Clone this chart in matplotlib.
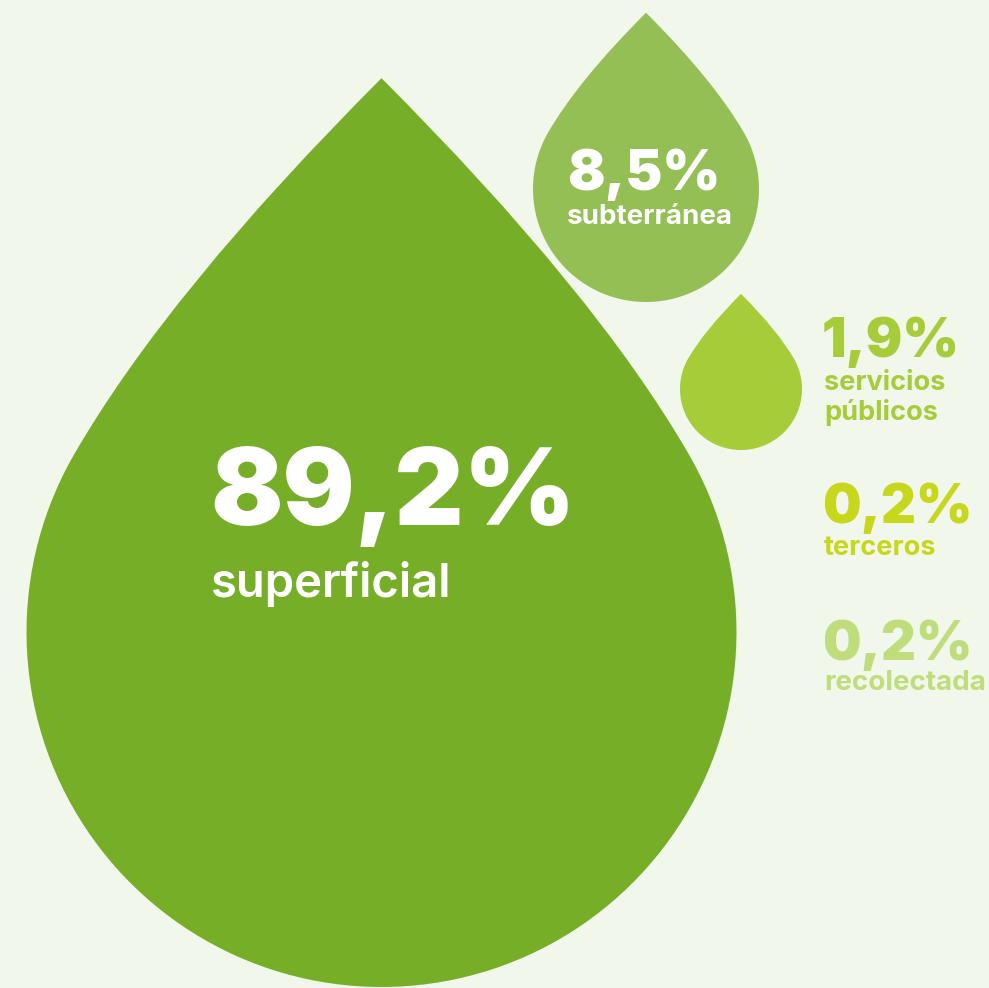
import numpy as np
import matplotlib.pyplot as plt
from matplotlib.path import Path
from matplotlib.patches import PathPatch

# water sources, share of total withdrawal
shares = [89.2, 8.5, 1.9, 0.2, 0.2]
share_labels = ['89,2%', '8,5%', '1,9%', '0,2%', '0,2%']
sources = ['superficial', 'subterránea', 'servicios\npúblicos', 'terceros', 'recolectada']

BG = '#f1f7ea'
colors = ['#77ae28', '#93bf55', '#a6cc3a', '#c6d71c', '#bfdd7b']

plt.rcParams['font.family'] = ['Inter', 'DejaVu Sans']


def drop_path(cx, cy, r, tip=1.56):
    # round bottom of radius r centred at (cx, cy), pointed tip above it
    a = np.radians(150)
    p3 = np.array([np.cos(a), np.sin(a)])
    # control point: where the 45 deg tip line meets the circle tangent at p3
    A = np.array([[1.0, np.sin(a)], [1.0, -np.cos(a)]])
    b = np.array([-np.cos(a), tip - np.sin(a)])
    s, u = np.linalg.solve(A, b)
    q = np.array([-s, tip - s])
    th = np.linspace(a, 2 * np.pi + np.pi - a, 120)
    arc = np.column_stack([np.cos(th), np.sin(th)])
    verts = [(0, tip), q, p3] + list(arc[1:]) + [(-q[0], q[1]), (0, tip), (0, tip)]
    codes = ([Path.MOVETO, Path.CURVE3, Path.CURVE3] + [Path.LINETO] * (len(arc) - 1)
             + [Path.CURVE3, Path.CURVE3, Path.CLOSEPOLY])
    verts = np.array(verts, dtype=float)
    verts[:, 0] = cx + r * verts[:, 0]
    verts[:, 1] = cy - r * verts[:, 1]
    return Path(verts, codes)


fig = plt.figure(figsize=(9.89, 9.88), dpi=100)
fig.patch.set_facecolor(BG)
ax = fig.add_axes([0, 0, 1, 1])
ax.set_xlim(0, 989)
ax.set_ylim(988, 0)
ax.axis('off')

# drops: big, medium, small
for (cx, cy, r), c in zip([(381.5, 632, 355), (646, 189, 113), (741, 389, 61)], colors[:3]):
    ax.add_patch(PathPatch(drop_path(cx, cy, r), facecolor=c, edgecolor='none'))

# labels inside drops
ax.text(210, 525, share_labels[0], color='white', fontsize=77, fontweight='black', va='baseline')
ax.text(211, 597, sources[0], color='white', fontsize=34, fontweight='semibold', va='baseline')
ax.text(567, 190, share_labels[1], color='white', fontsize=40, fontweight='black', va='baseline')
ax.text(567, 224, sources[1], color='white', fontsize=20, fontweight='bold', va='baseline')

# labels to the right
ax.text(822, 357, share_labels[2], color=colors[2], fontsize=39, fontweight='black', va='baseline')
ax.text(824, 390, 'servicios', color=colors[2], fontsize=19.5, fontweight='bold', va='baseline')
ax.text(824, 420, 'públicos', color=colors[2], fontsize=19.5, fontweight='bold', va='baseline')
ax.text(822, 523, share_labels[3], color=colors[3], fontsize=39, fontweight='black', va='baseline')
ax.text(824, 555, sources[3], color=colors[3], fontsize=19.5, fontweight='bold', va='baseline')
ax.text(822, 660, share_labels[4], color=colors[4], fontsize=39, fontweight='black', va='baseline')
ax.text(824, 690, sources[4], color=colors[4], fontsize=20, fontweight='bold', va='baseline')

fig.savefig('out.png', dpi=100, facecolor=BG)
